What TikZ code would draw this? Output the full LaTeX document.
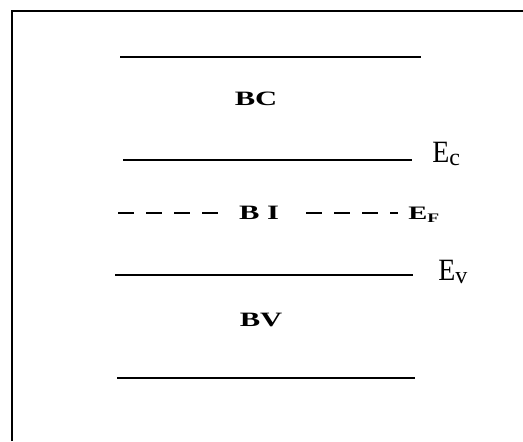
\documentclass[tikz,border=0pt]{standalone}
\usepackage{fontspec}
\setmainfont{Liberation Serif}
\newfontfamily\widebf[FakeStretch=1.5]{Liberation Serif Bold}
\newfontfamily\narrowrm[FakeStretch=0.9]{Liberation Serif}

\begin{document}
\begin{tikzpicture}[
    x=0.5pt, y=-0.5pt,
    frame/.style={line width=1pt},
    band/.style={line width=1.4pt},
    fermi/.style={line width=1.4pt, dash pattern=on 8pt off 6pt},
    zone/.style={font=\widebf\fontsize{10.2}{11}\selectfont, inner sep=0pt},
    elbl/.style={font=\narrowrm\fontsize{15.5}{16}\selectfont, anchor=base west, inner sep=0pt},
    flbl/.style={font=\widebf\fontsize{9.5}{10}\selectfont, anchor=base west, inner sep=0pt}
]
    \useasboundingbox (0,0) rectangle (523,441);
    % frame
    \draw[frame] (12,441) -- (12,11) -- (523,11);
    % band edges
    \draw[band] (120,57) -- (421,57);
    \draw[band] (123,160) -- (412,160);
    \draw[band] (115,275) -- (413,275);
    \draw[band] (117,378) -- (415,378);
    % fermi level
    \draw[fermi] (118,213) -- (218,213);
    \draw[fermi] (306,213) -- (398,213);
    % band names
    \node[zone] (bc) at (256,99) {BC};
    \node[zone] (bi) at (259,213) {B I};
    \node[zone] (bv) at (261,320) {BV};
    % energy labels
    \node[elbl] (ec) at (432,162) {E\raisebox{-1.5pt}{\rmfamily\fontsize{12}{12}\selectfont c}};
    \node[elbl] (ev) at (438,280) {E\raisebox{-1.5pt}{\rmfamily\fontsize{12}{12}\selectfont v}};
    \node[flbl] (ef) at (408,219) {E\raisebox{-1.5pt}{\fontsize{6.5}{7}\selectfont F}};
\end{tikzpicture}
\end{document}
